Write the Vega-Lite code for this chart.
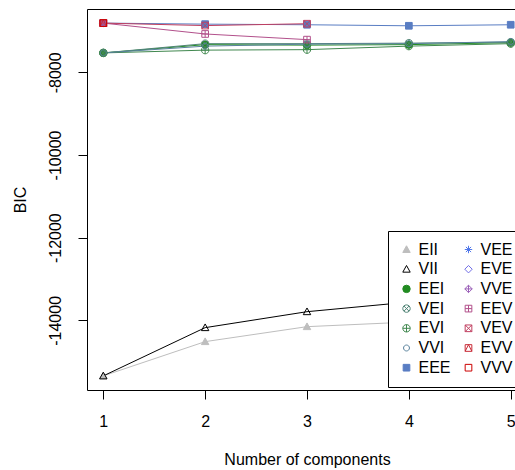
{
  "$schema": "https://vega.github.io/schema/vega-lite/v6.json",
  "autosize": {"type": "none"},
  "width": 440,
  "height": 381,
  "padding": {"left": 87, "top": 9, "right": -12, "bottom": 80},
  "background": "white",
  "config": {
    "view": {"stroke": "black", "strokeWidth": 1},
    "font": "Liberation Sans",
    "axis": {"grid": false, "domain": false, "tickColor": "black", "tickSize": 9, "labelColor": "black", "labelFontSize": 16, "titleFontSize": 16, "titleFontWeight": "normal", "titleColor": "black", "labelFont": "Liberation Sans", "titleFont": "Liberation Sans"},
    "legend": {"orient": "none", "legendX": 301, "legendY": 222, "columns": 2, "padding": 10.5, "rowPadding": 3.7, "columnPadding": 9, "labelOffset": 4, "labelFontSize": 16, "labelColor": "black", "labelFont": "Liberation Sans", "strokeColor": "black", "fillColor": "white", "symbolSize": 55, "symbolStrokeWidth": 1, "labelLimit": 200}
  },
  "data": {"values": [
    {"model": "EII", "G": 1, "BIC": -15343}, {"model": "EII", "G": 2, "BIC": -14514}, {"model": "EII", "G": 3, "BIC": -14152}, {"model": "EII", "G": 4, "BIC": -14041}, {"model": "EII", "G": 5, "BIC": -14010},
    {"model": "VII", "G": 1, "BIC": -15343}, {"model": "VII", "G": 2, "BIC": -14176}, {"model": "VII", "G": 3, "BIC": -13790}, {"model": "VII", "G": 4, "BIC": -13558}, {"model": "VII", "G": 5, "BIC": -13310},
    {"model": "EEI", "G": 1, "BIC": -7531}, {"model": "EEI", "G": 2, "BIC": -7331}, {"model": "EEI", "G": 3, "BIC": -7343}, {"model": "EEI", "G": 4, "BIC": -7331}, {"model": "EEI", "G": 5, "BIC": -7283},
    {"model": "VEI", "G": 1, "BIC": -7531}, {"model": "VEI", "G": 2, "BIC": -7307}, {"model": "VEI", "G": 3, "BIC": -7307}, {"model": "VEI", "G": 4, "BIC": -7295}, {"model": "VEI", "G": 5, "BIC": -7271},
    {"model": "EVI", "G": 1, "BIC": -7531}, {"model": "EVI", "G": 2, "BIC": -7464}, {"model": "EVI", "G": 3, "BIC": -7452}, {"model": "EVI", "G": 4, "BIC": -7367}, {"model": "EVI", "G": 5, "BIC": -7307},
    {"model": "VVI", "G": 1, "BIC": -7531}, {"model": "VVI", "G": 2, "BIC": -7367}, {"model": "VVI", "G": 3, "BIC": -7319}, {"model": "VVI", "G": 4, "BIC": -7307}, {"model": "VVI", "G": 5, "BIC": -7258},
    {"model": "EEE", "G": 1, "BIC": -6810}, {"model": "EEE", "G": 2, "BIC": -6835}, {"model": "EEE", "G": 3, "BIC": -6850}, {"model": "EEE", "G": 4, "BIC": -6875}, {"model": "EEE", "G": 5, "BIC": -6850},
    {"model": "VEE", "G": 1, "BIC": -6810},
    {"model": "EVE", "G": 1, "BIC": -6810},
    {"model": "VVE", "G": 1, "BIC": -6810},
    {"model": "EEV", "G": 1, "BIC": -6810}, {"model": "EEV", "G": 2, "BIC": -7073}, {"model": "EEV", "G": 3, "BIC": -7210},
    {"model": "VEV", "G": 1, "BIC": -6810}, {"model": "VEV", "G": 2, "BIC": -6870}, {"model": "VEV", "G": 3, "BIC": -6825},
    {"model": "EVV", "G": 1, "BIC": -6810},
    {"model": "VVV", "G": 1, "BIC": -6810}
  ]},
  "encoding": {
    "x": {"field": "G", "type": "quantitative", "scale": {"domain": [0.84, 5.16], "nice": false, "zero": false}, "axis": {"values": [1, 2, 3, 4, 5], "title": "Number of components", "labelPadding": 14, "titlePadding": 22, "labelFlush": false}},
    "y": {"field": "BIC", "type": "quantitative", "scale": {"domain": [-15684, -6469], "nice": false, "zero": false}, "axis": {"values": [-14000, -12000, -10000, -8000], "title": "BIC", "labelExpr": "'' + datum.value", "labelAngle": -90, "labelAlign": "center", "labelBaseline": "bottom", "labelPadding": 15, "titlePadding": 19}}
  },
  "layer": [
    {
      "mark": {"type": "line", "strokeWidth": 1, "clip": true},
      "encoding": {
        "color": {"field": "model", "type": "nominal", "legend": null,
          "scale": {"domain": ["EII", "VEE", "VII", "EVE", "EEI", "VVE", "VEI", "EEV", "EVI", "VEV", "VVI", "EVV", "EEE", "VVV"],
                    "range": ["#BEBEBE", "#5178EA", "#000000", "#716EE7", "#218B21", "#9B60B8", "#508476", "#B2508B", "#41884F", "#C03F60", "#58819C", "#C82A36", "#597DC3", "#CC0000"]}}
      }
    },
    {
      "mark": {"type": "point", "size": 55, "strokeWidth": 1, "opacity": 1},
      "encoding": {
        "stroke": {"field": "model", "type": "nominal", "title": null,
          "scale": {"domain": ["EII", "VII", "EEI", "VEI", "EVI", "VVI", "EEE", "VEE", "EVE", "VVE", "EEV", "VEV", "EVV", "VVV"],
                    "range": ["#BEBEBE", "#000000", "#218B21", "#508476", "#41884F", "#58819C", "#597DC3", "#5178EA", "#716EE7", "#9B60B8", "#B2508B", "#C03F60", "#C82A36", "#CC0000"]}},
        "fill": {"field": "model", "type": "nominal", "title": null,
          "scale": {"domain": ["EII", "VII", "EEI", "VEI", "EVI", "VVI", "EEE", "VEE", "EVE", "VVE", "EEV", "VEV", "EVV", "VVV"],
                    "range": ["#BEBEBE", "transparent", "#218B21", "transparent", "transparent", "transparent", "#597DC3", "transparent", "transparent", "transparent", "transparent", "transparent", "transparent", "transparent"]}},
        "shape": {"field": "model", "type": "nominal", "title": null,
          "scale": {"domain": ["EII", "VII", "EEI", "VEI", "EVI", "VVI", "EEE", "VEE", "EVE", "VVE", "EEV", "VEV", "EVV", "VVV"],
                    "range": [
                      "M0,-1L1,0.8L-1,0.8Z",
                      "M0,-1L1,0.8L-1,0.8Z",
                      "circle",
                      "M-1,0A1,1,0,1,0,1,0A1,1,0,1,0,-1,0ZM-0.7,-0.7L0.7,0.7M-0.7,0.7L0.7,-0.7",
                      "M-1,0A1,1,0,1,0,1,0A1,1,0,1,0,-1,0ZM-1,0L1,0M0,-1L0,1",
                      "M-0.8,0A0.8,0.8,0,1,0,0.8,0A0.8,0.8,0,1,0,-0.8,0Z",
                      "M-0.9,-0.9L0.9,-0.9L0.9,0.9L-0.9,0.9Z",
                      "M-1,0L1,0M0,-1L0,1M-0.7,-0.7L0.7,0.7M-0.7,0.7L0.7,-0.7",
                      "M0,-1L1,0L0,1L-1,0Z",
                      "M0,-1L1,0L0,1L-1,0ZM-1,0L1,0M0,-1L0,1",
                      "M-0.9,-0.9L0.9,-0.9L0.9,0.9L-0.9,0.9ZM-0.9,0L0.9,0M0,-0.9L0,0.9",
                      "M-0.9,-0.9L0.9,-0.9L0.9,0.9L-0.9,0.9ZM-0.9,-0.9L0.9,0.9M-0.9,0.9L0.9,-0.9",
                      "M-0.9,-0.9L0.9,-0.9L0.9,0.9L-0.9,0.9ZM-0.9,0.9L0,-0.9L0.9,0.9",
                      "M-0.9,-0.9L0.9,-0.9L0.9,0.9L-0.9,0.9Z"
                    ]}}
      }
    }
  ]
}
